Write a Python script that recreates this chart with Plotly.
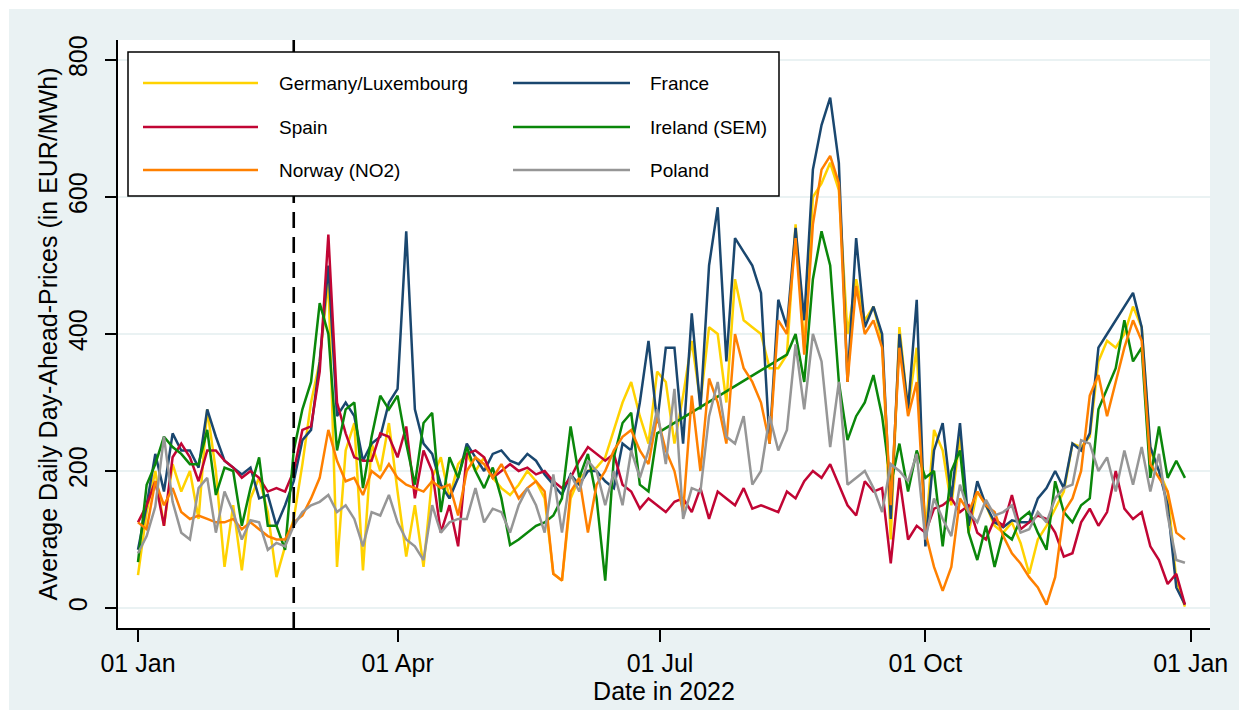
import pandas as pd
import plotly.graph_objects as go

# Average daily day-ahead prices (EUR/MWh), one value every third day of 2022
dates = pd.date_range("2022-01-01", periods=122, freq="3D")

germany = [
    48, 140, 200, 120, 210, 170, 200, 130, 290, 200,
    60, 150, 55, 160, 190, 140, 45, 90, 130, 210,
    300, 360, 480, 60, 230, 270, 55, 240, 200, 270,
    170, 75, 150, 60, 190, 220, 160, 210, 225, 200,
    220, 190, 175, 165, 180, 200, 185, 160, 50, 40,
    160, 190, 200, 205, 220, 260, 300, 330, 280, 240,
    345, 330, 240, 310, 390, 300, 410, 400, 300, 480,
    420, 410, 400, 350, 350, 370, 560, 380, 600, 620,
    650, 610, 400, 480, 420, 440, 390, 100, 410, 290,
    380, 105, 260, 230, 150, 250, 110, 170, 150, 120,
    110, 125, 95, 50, 100, 120, 145, 170, 240, 235,
    250, 360, 390, 380, 400, 440, 410, 230, 200, 170,
    40, 2,
]
france = [
    85, 150, 225, 170, 255, 230, 230, 205, 290, 250,
    215, 205, 195, 205, 160, 165, 120, 150, 185, 245,
    260, 360, 500, 280, 300, 280, 215, 240, 250, 300,
    320, 550, 290, 240, 225, 180, 160, 190, 240, 220,
    200, 225, 230, 215, 210, 225, 215, 195, 180, 165,
    195, 180, 200, 200, 185, 175, 240, 230, 300, 390,
    270, 380, 380, 240, 430, 290, 500, 585, 360, 540,
    520, 500, 460, 240, 450, 410, 555, 420, 640, 705,
    745, 650, 330, 540, 410, 440, 400, 130, 400, 290,
    450, 90, 230, 270, 160, 270, 120, 185, 150, 125,
    118, 128, 125, 125, 160, 175, 200, 175, 240, 230,
    255, 380, 400, 420, 440, 460, 410, 235, 200, 150,
    30, 5,
]
spain = [
    125, 150, 185, 120, 220, 240, 220, 185, 230, 230,
    215, 205, 190, 200, 190, 170, 175, 170, 200, 260,
    265, 345, 545, 300, 255, 220, 215, 215, 255, 250,
    220, 265, 160, 230, 200, 110, 150, 90, 225, 230,
    220, 190, 200, 210, 200, 205, 195, 200, 185, 175,
    190, 215, 235, 225, 215, 225, 180, 170, 145, 160,
    150, 140, 155, 160, 140, 175, 130, 170, 160, 150,
    175, 145, 150, 145, 140, 170, 160, 185, 200, 190,
    210, 180, 150, 135, 185, 170, 175, 65, 190, 100,
    120, 110, 145, 150, 160, 140, 150, 110, 100, 130,
    120, 165, 115, 125, 135, 130, 110, 75, 80, 125,
    145, 120, 140, 200, 145, 130, 140, 90, 70, 35,
    50, 5,
]
# Ireland (SEM) has no published values for most of July and August
ireland = [
    67, 180, 210, 250, 235, 225, 210, 210, 260, 165,
    205, 200, 120, 175, 220, 120, 120, 85, 230, 290,
    330, 445, 400, 230, 290, 300, 175, 250, 310, 290,
    310, 240, 180, 270, 285, 140, 220, 190, 235, 200,
    175, 205, 160, 92, 100, 110, 120, 125, 135, 160,
    265, 190, 225, 160, 40, 220, 270, 285, 180, 170,
    255, None, None, None, None, None, None, None, None, None,
    None, None, None, None, None, 370, 400, 330, 480, 550,
    500, 330, 245, 280, 300, 340, 280, 180, 240, 170,
    230, 190, 200, 90, 200, 230, 110, 70, 120, 60,
    110, 100, 130, 140, 110, 85, 185, 140, 125, 150,
    160, 290, 320, 350, 420, 360, 380, 190, 265, 190,
    215, 190,
]
norway = [
    125, 115, 185, 150, 175, 140, 130, 135, 130, 125,
    125, 130, 115, 125, 115, 105, 100, 100, 125, 135,
    160, 190, 260, 215, 185, 190, 165, 200, 190, 210,
    190, 180, 175, 170, 185, 175, 180, 135, 200, 220,
    210, 190, 210, 185, 160, 175, 185, 170, 50, 40,
    170, 190, 110, 180, 200, 230, 250, 260, 230, 210,
    280, 230, 200, 140, 310, 200, 335, 300, 240, 400,
    350, 330, 300, 240, 420, 400, 540, 370, 560, 640,
    660, 620, 330, 470, 400, 420, 380, 150, 380, 280,
    330, 110, 60, 25, 60, 160, 140, 170, 150, 140,
    105, 80, 65, 45, 30, 5, 45, 140, 160, 200,
    310, 340, 280, 330, 380, 420, 390, 210, 190, 170,
    110, 100,
]
poland = [
    80, 105, 148, 250, 155, 110, 100, 175, 190, 110,
    170, 140, 100, 128, 125, 85, 95, 90, 120, 140,
    150, 155, 165, 140, 150, 130, 90, 140, 135, 165,
    125, 100, 90, 70, 150, 110, 125, 130, 130, 175,
    125, 145, 140, 110, 150, 175, 150, 110, 195, 110,
    195, 170, 215, 200, 150, 200, 150, 230, 190, 230,
    290, 210, 320, 130, 175, 170, 280, 330, 250, 240,
    280, 180, 200, 280, 230, 260, 385, 290, 400, 360,
    235, 330, 180, 190, 200, 175, 140, 210, 200, 185,
    225, 100, 160, 130, 105, 180, 140, 125, 158, 135,
    140, 150, 110, 115, 140, 125, 160, 175, 180, 245,
    240, 200, 220, 170, 230, 180, 235, 170, 225, 135,
    70, 66,
]

series_names = ["Germany/Luxembourg", "France", "Spain",
                "Ireland (SEM)", "Norway (NO2)", "Poland"]
series_values = [germany, france, spain, ireland, norway, poland]
series_colors = ["#FFD200", "#1A476F", "#C10534", "#0A870A", "#FF8000", "#969696"]

tick_dates = ["2022-01-01", "2022-04-01", "2022-07-01", "2022-10-01", "2023-01-01"]
tick_text = ["01 Jan", "01 Apr", "01 Jul", "01 Oct", "01 Jan"]
y_ticks = [0, 200, 400, 600, 800]
event_date = "2022-02-24"

# ---- page geometry (pixels) ----
W, H = 1239, 710
PL, PR, PT, PB = 118, 1210, 40, 628
BG = "#EAF2F3"
FONT = "Arial, 'Liberation Sans', sans-serif"


def px_x(p):
    return (p - PL) / (PR - PL)


def px_y(p):
    return (PB - p) / (PB - PT)


fig = go.Figure()
for name, vals, col in zip(series_names, series_values, series_colors):
    fig.add_trace(go.Scatter(
        x=dates, y=vals, mode="lines", name=name,
        line=dict(color=col, width=2.5),
        connectgaps=True, showlegend=False,
    ))

shapes = []
# white strips along the top and left edge of the page
shapes.append(dict(type="rect", xref="paper", yref="paper", layer="below",
                   x0=px_x(0), x1=px_x(W), y0=px_y(0), y1=px_y(9),
                   fillcolor="white", line=dict(width=0)))
shapes.append(dict(type="rect", xref="paper", yref="paper", layer="below",
                   x0=px_x(0), x1=px_x(9), y0=px_y(H), y1=px_y(0),
                   fillcolor="white", line=dict(width=0)))
# dashed marker line
shapes.append(dict(type="line", xref="x", yref="paper", layer="above",
                   x0=event_date, x1=event_date, y0=0, y1=1,
                   line=dict(color="black", width=2.6, dash="16px,9px")))
# legend frame
shapes.append(dict(type="rect", xref="paper", yref="paper", layer="above",
                   x0=px_x(128), x1=px_x(779), y0=px_y(196), y1=px_y(52),
                   fillcolor="white", line=dict(color="black", width=1.5)))

annotations = []
col_lines = [(143, 258, 277), (513, 630, 648)]
row_y = [83, 127, 170]
for k, (name, col) in enumerate(zip(series_names, series_colors)):
    r, c = divmod(k, 2)
    lx0, lx1, tx = col_lines[c]
    yy = px_y(row_y[r])
    shapes.append(dict(type="line", xref="paper", yref="paper", layer="above",
                       x0=px_x(lx0), x1=px_x(lx1), y0=yy, y1=yy,
                       line=dict(color=col, width=2.6)))
    annotations.append(dict(xref="paper", yref="paper", x=px_x(tx), y=yy,
                            text=name, showarrow=False, xanchor="left",
                            yanchor="middle",
                            font=dict(family=FONT, size=19, color="black")))

fig.update_layout(
    width=W, height=H,
    margin=dict(l=PL, r=W - PR, t=PT, b=H - PB, pad=0),
    paper_bgcolor=BG, plot_bgcolor="white",
    font=dict(family=FONT, color="black"),
    shapes=shapes, annotations=annotations,
    showlegend=False,
)
fig.update_xaxes(
    type="date",
    range=["2021-12-25 01:34", "2023-01-07 16:30"],
    tickvals=tick_dates, ticktext=tick_text,
    ticks="outside", ticklen=12, tickwidth=1.5, tickcolor="black",
    showline=True, linecolor="black", linewidth=1.5,
    showgrid=False, zeroline=False,
    tickfont=dict(family=FONT, size=25, color="black"),
    title=dict(text="Date in 2022", standoff=0,
               font=dict(family=FONT, size=25, color="black")),
)
fig.update_yaxes(
    range=[-29.2, 829.2],
    tickvals=y_ticks, tickangle=-90,
    ticks="outside", ticklen=11, tickwidth=1.5, tickcolor="black",
    ticklabelstandoff=8,
    showline=True, linecolor="black", linewidth=1.5,
    showgrid=True, gridcolor=BG, gridwidth=2, zeroline=False,
    tickfont=dict(family=FONT, size=25, color="black"),
    title=dict(text="Average Daily Day-Ahead-Prices (in EUR/MWh)", standoff=0,
               font=dict(family=FONT, size=25, color="black")),
)

fig.write_html("out.html")
